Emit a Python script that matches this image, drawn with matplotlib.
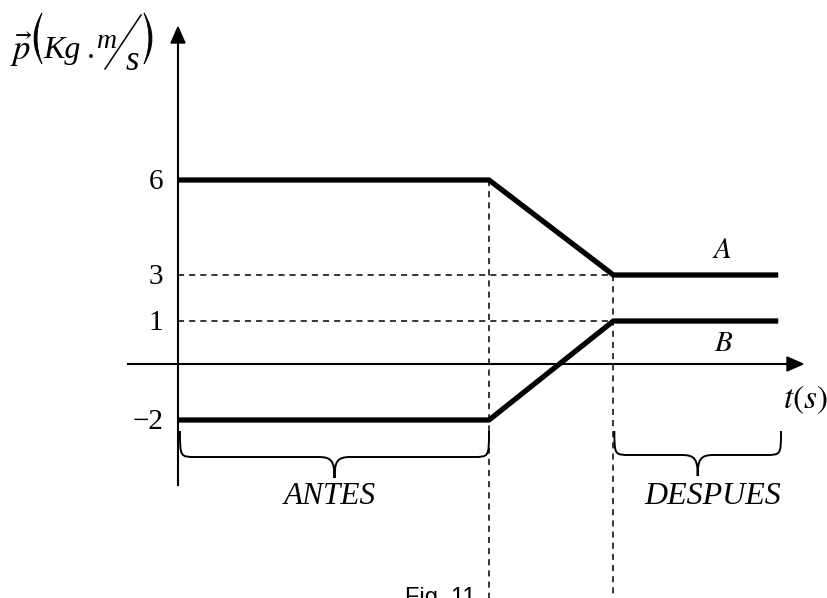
import numpy as np
import matplotlib
matplotlib.use("Agg")
import matplotlib.pyplot as plt
from matplotlib.path import Path
from matplotlib.patches import PathPatch, Polygon

plt.rcParams['mathtext.fontset'] = 'stix'

# Momentum of A and B before / after the collision (schematic)
t_A = [0, 10, 14, 19.3]
p_A = [6, 6, 3, 3]
t_B = [0, 10, 14, 19.3]
p_B = [-2, -2, 1, 1]
t_start, t_end = 10, 14
y_ticks = [6, 3, 1, -2]
y_labels = ["6", "3", "1", "\u22122"]

# the drawing is not to scale: piecewise linear vertical scale
knots_v = np.array([-100, -2, 0, 1, 3, 6, 100])
knots_p = np.array([-2800, -56, 0, 43, 89, 184, 3161], dtype=float)

def fwd(v):
    return np.interp(v, knots_v, knots_p)

def inv(p):
    return np.interp(p, knots_p, knots_v)

W, H = 828, 598
fig = plt.figure(figsize=(W / 100, H / 100), dpi=100)
ax = fig.add_axes([0, 0, 1, 1])
ax.set_yscale('function', functions=(fwd, inv))
ax.set_xlim(-178 / 31.1, (W - 178) / 31.1)
ax.set_ylim(inv(-(H - 364)), inv(364))
ax.axis('off')

# overlay in pixel coordinates for axes, braces and labels
ov = fig.add_axes([0, 0, 1, 1], zorder=3)
ov.set_xlim(0, W)
ov.set_ylim(H, 0)
ov.axis('off')
ov.patch.set_alpha(0)

def to_px(t, p):
    d = ax.transData.transform((t, p))
    return d[0], H - d[1]

dash = (0, (4, 3.3))
# dashed guides
for v in [3, 1]:
    ax.plot([0, t_end], [v, v], color='k', lw=1.1, ls=dash)
ybot = ax.get_ylim()[0]
ax.plot([t_start, t_start], [6, ybot], color='k', lw=1.1, ls=dash)
ax.plot([t_end, t_end], [3, ybot], color='k', lw=1.1, ls=dash)

# momentum curves
ax.plot(t_A, p_A, color='k', lw=3.8, solid_capstyle='butt')
ax.plot(t_B, p_B, color='k', lw=3.8, solid_capstyle='butt')

# axes with arrows
x0, y0 = to_px(0, 0)
ov.plot([128, 790], [y0, y0], color='k', lw=1.5)
ov.add_patch(Polygon([[803, y0], [787, y0 - 7], [787, y0 + 7]], color='k'))
ov.plot([x0, x0], [485, 40], color='k', lw=1.5)
ov.add_patch(Polygon([[x0, 27], [x0 - 7, 43], [x0 + 7, 43]], color='k'))

# tick labels
for v, lab in zip(y_ticks, y_labels):
    _, py = to_px(0, v)
    ov.text(x0 - 15, py + 2, lab, ha='right', va='center',
            family='Liberation Serif', fontsize=21)


def brace(xa, xb, ytop, yline, ycusp, r=16):
    xm = (xa + xb) / 2
    verts = [(xa, ytop), (xa, yline), (xa, yline), (xa + r, yline),
             (xm - r, yline), (xm - 3, yline), (xm, yline + 4), (xm, ycusp),
             (xm, yline + 4), (xm + 3, yline), (xm + r, yline),
             (xb - r, yline), (xb, yline), (xb, yline), (xb, ytop)]
    codes = [Path.MOVETO, Path.CURVE4, Path.CURVE4, Path.CURVE4,
             Path.LINETO, Path.CURVE4, Path.CURVE4, Path.CURVE4,
             Path.CURVE4, Path.CURVE4, Path.CURVE4,
             Path.LINETO, Path.CURVE4, Path.CURVE4, Path.CURVE4]
    ov.add_patch(PathPatch(Path(verts, codes), fill=False, lw=1.4, color='k'))
    return xm


def paren(xe, xm, top, bot, w=3, flip=1):
    # thin tall parenthesis: crescent between two quadratic curves
    mid = (top + bot) / 2
    c_out = 2 * xm - xe
    c_in = 2 * (xm + flip * w) - xe
    verts = [(xe, top), (c_out, mid), (xe, bot), (c_in, mid), (xe, top), (xe, top)]
    codes = [Path.MOVETO, Path.CURVE3, Path.CURVE3, Path.CURVE3, Path.CURVE3,
             Path.CLOSEPOLY]
    ov.add_patch(PathPatch(Path(verts, codes), color='k', lw=0.6))


xa, _ = to_px(0, 0)
xb, _ = to_px(t_start, 0)
xm = brace(xa + 2, xb, 431, 457, 478)
ov.text(xm - 5, 497, "ANTES", ha='center', va='center', style='italic',
        family='Liberation Serif', fontsize=22.5)
xc, _ = to_px(t_end, 0)
xm = brace(xc + 1, 781, 431, 455, 476)
ov.text(xm + 15, 497, "DESPUES", ha='center', va='center', style='italic',
        family='Liberation Serif', fontsize=23)

# curve names and axis titles
ov.text(722, 250, r'$A$', ha='center', va='center', fontsize=21)
ov.text(724, 343, r'$B$', ha='center', va='center', fontsize=21)
ov.text(805, 400, r'$t(s)$', ha='center', va='center', fontsize=24)

ov.text(10, 60, r'$\vec{p}$', ha='left', va='baseline', fontsize=25)
paren(42, 34, 13, 64, flip=1)
ov.text(43, 58, 'Kg', ha='left', va='baseline', family='Liberation Serif',
        style='italic', fontsize=23)
ov.text(87, 58, '.', ha='left', va='baseline', family='Liberation Serif',
        fontsize=23)
ov.text(97, 48, 'm', ha='left', va='baseline', family='Liberation Serif',
        style='italic', fontsize=20)
ov.plot([105, 141], [69, 15], color='k', lw=1.1)
ov.text(126, 70, 's', ha='left', va='baseline', family='Liberation Serif',
        style='italic', fontsize=25)
paren(144, 152, 13, 64, flip=-1)

# caption, cut by the lower edge
ov.text(405, 587, 'Fig. 11', ha='left', va='top', family='Liberation Sans',
        fontsize=17)

fig.savefig('out.png', dpi=100)
